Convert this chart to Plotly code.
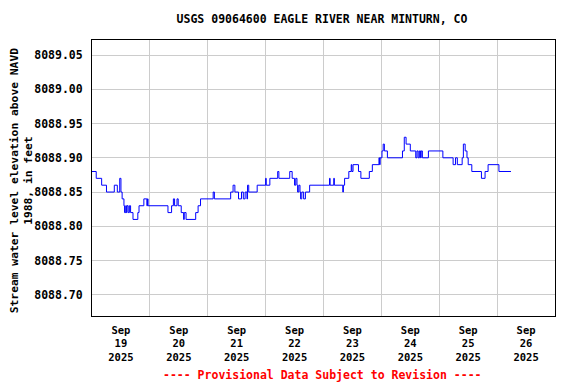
import plotly.graph_objects as go

title_text = "USGS 09064600 EAGLE RIVER NEAR MINTURN, CO"
y_title = "Stream water level elevation above NAVD<br>1988, in feet"
footer_text = "---- Provisional Data Subject to Revision ----"

times = [
    "2025-09-19 00:00", "2025-09-19 01:45", "2025-09-19 04:00", "2025-09-19 06:00",
    "2025-09-19 09:15", "2025-09-19 10:30", "2025-09-19 11:30", "2025-09-19 12:00",
    "2025-09-19 12:30", "2025-09-19 13:15", "2025-09-19 13:30", "2025-09-19 14:00",
    "2025-09-19 14:15", "2025-09-19 14:30", "2025-09-19 15:00", "2025-09-19 15:30",
    "2025-09-19 16:00", "2025-09-19 17:00", "2025-09-19 19:00", "2025-09-19 19:30",
    "2025-09-19 21:30", "2025-09-19 22:45", "2025-09-19 23:00", "2025-09-19 23:15",
    "2025-09-20 07:30", "2025-09-20 09:00", "2025-09-20 09:45", "2025-09-20 10:15",
    "2025-09-20 11:15", "2025-09-20 11:45", "2025-09-20 13:00", "2025-09-20 14:00",
    "2025-09-20 14:15", "2025-09-20 15:00", "2025-09-20 19:00", "2025-09-20 20:00",
    "2025-09-20 21:00",
    "2025-09-21 02:15", "2025-09-21 02:45", "2025-09-21 09:30", "2025-09-21 10:30",
    "2025-09-21 11:15", "2025-09-21 12:45", "2025-09-21 14:00", "2025-09-21 14:45",
    "2025-09-21 15:30", "2025-09-21 16:15", "2025-09-21 16:30", "2025-09-21 17:00",
    "2025-09-21 20:30",
    "2025-09-22 00:00", "2025-09-22 00:15", "2025-09-22 01:45", "2025-09-22 05:00",
    "2025-09-22 05:30", "2025-09-22 10:00", "2025-09-22 11:00", "2025-09-22 12:00",
    "2025-09-22 12:30", "2025-09-22 13:00", "2025-09-22 13:15", "2025-09-22 13:45",
    "2025-09-22 14:15", "2025-09-22 14:30", "2025-09-22 15:00", "2025-09-22 15:45",
    "2025-09-22 16:30", "2025-09-22 18:15",
    "2025-09-23 02:30", "2025-09-23 02:45", "2025-09-23 04:15", "2025-09-23 04:30",
    "2025-09-23 08:00", "2025-09-23 08:15", "2025-09-23 08:45", "2025-09-23 10:30",
    "2025-09-23 11:30", "2025-09-23 11:45", "2025-09-23 12:15", "2025-09-23 14:30",
    "2025-09-23 15:30", "2025-09-23 19:00", "2025-09-23 20:15", "2025-09-23 23:00",
    "2025-09-23 23:15", "2025-09-23 23:30",
    "2025-09-24 00:15", "2025-09-24 00:45", "2025-09-24 01:15", "2025-09-24 02:30",
    "2025-09-24 08:45", "2025-09-24 09:30", "2025-09-24 10:15", "2025-09-24 12:00",
    "2025-09-24 14:15", "2025-09-24 14:45", "2025-09-24 15:15", "2025-09-24 15:45",
    "2025-09-24 16:15", "2025-09-24 16:30", "2025-09-24 17:00", "2025-09-24 19:30",
    "2025-09-25 01:30", "2025-09-25 05:45", "2025-09-25 06:45", "2025-09-25 07:30",
    "2025-09-25 09:30", "2025-09-25 10:00", "2025-09-25 10:45", "2025-09-25 11:30",
    "2025-09-25 12:00", "2025-09-25 13:30", "2025-09-25 17:30", "2025-09-25 19:00",
    "2025-09-25 20:15",
    "2025-09-26 00:45", "2025-09-26 05:45",
]

levels = [
    8088.88, 8088.87, 8088.86, 8088.85,
    8088.86, 8088.85, 8088.87, 8088.85,
    8088.84, 8088.83, 8088.82, 8088.83,
    8088.82, 8088.83, 8088.82, 8088.83,
    8088.82, 8088.81, 8088.82, 8088.83,
    8088.84, 8088.83, 8088.84, 8088.83,
    8088.82, 8088.83, 8088.84, 8088.83,
    8088.84, 8088.83, 8088.82, 8088.81,
    8088.82, 8088.81, 8088.82, 8088.83,
    8088.84,
    8088.85, 8088.84, 8088.85, 8088.86,
    8088.85, 8088.84, 8088.85, 8088.84,
    8088.85, 8088.84, 8088.86, 8088.85,
    8088.86,
    8088.87, 8088.86, 8088.87, 8088.88,
    8088.87, 8088.88, 8088.87, 8088.86,
    8088.87, 8088.86, 8088.85, 8088.86,
    8088.85, 8088.84, 8088.85, 8088.84,
    8088.85, 8088.86,
    8088.87, 8088.86, 8088.87, 8088.86,
    8088.85, 8088.86, 8088.87, 8088.88,
    8088.89, 8088.88, 8088.89, 8088.88,
    8088.87, 8088.88, 8088.89, 8088.90,
    8088.89, 8088.90,
    8088.91, 8088.92, 8088.91, 8088.90,
    8088.91, 8088.93, 8088.92, 8088.91,
    8088.90, 8088.91, 8088.90, 8088.91,
    8088.90, 8088.91, 8088.90, 8088.91,
    8088.90, 8088.89, 8088.90, 8088.89,
    8088.90, 8088.92, 8088.91, 8088.90,
    8088.89, 8088.88, 8088.87, 8088.88,
    8088.89,
    8088.88, 8088.88,
]

label_times = ["2025-09-%02d 12:00" % d for d in range(19, 27)]
label_text = ["Sep<br>%d<br>2025" % d for d in range(19, 27)]
grid_times = ["2025-09-%02d 00:00" % d for d in range(20, 27)]
y_ticks = [8088.70, 8088.75, 8088.80, 8088.85, 8088.90, 8088.95, 8089.00, 8089.05]
y_tick_text = ["%.2f" % v for v in y_ticks]
x_range = ["2025-09-19 00:00", "2025-09-27 00:00"]
y_range = [8088.669, 8089.072]

FONT = "DejaVu Sans Mono"
font = dict(family=FONT, size=11.5, color="black", weight="bold")
xfont = dict(family=FONT, size=10.5, color="black", weight="bold")

# the page body has an 8px margin, so the figure is laid out 8px up/left
fig = go.Figure()
fig.add_trace(go.Scatter(
    x=times, y=levels, mode="lines", line=dict(color="#0000ff", width=1, shape="hv"),
    showlegend=False, hoverinfo="x+y",
))

fig.update_layout(
    width=576, height=384,
    margin=dict(l=84, r=29, t=32, b=76),
    paper_bgcolor="white", plot_bgcolor="white",
    font=font,
    title=dict(text=title_text, x=314 / 576, xanchor="center", y=1 - 11 / 384, yanchor="middle",
               font=dict(family=FONT, size=11.5, color="black", weight="bold")),
)

fig.update_xaxes(
    type="date", range=x_range,
    tickmode="array", tickvals=label_times, ticktext=label_text,
    showgrid=False, ticks="", ticklabelstandoff=4,
    minor=dict(tickmode="array", tickvals=grid_times, showgrid=True, gridcolor="#cccccc", gridwidth=1, ticks=""),
    showline=True, mirror=True, linecolor="black", linewidth=1,
    tickfont=xfont, zeroline=False,
)
fig.update_yaxes(
    range=y_range, tickmode="array", tickvals=y_ticks, ticktext=y_tick_text,
    showgrid=True, gridcolor="#cccccc", gridwidth=1, ticks="", ticklabelstandoff=6,
    showline=True, mirror=True, linecolor="black", linewidth=1,
    tickfont=font, zeroline=False,
)

fig.add_annotation(
    text=y_title, textangle=-90, xref="paper", yref="paper",
    x=(21.5 - 92) / 463, y=0.49, xanchor="center", yanchor="middle", showarrow=False,
    font=dict(family=FONT, size=11.3, color="black", weight="bold"),
)
fig.add_annotation(
    text=footer_text, xref="paper", yref="paper",
    x=(322 - 92) / 463, y=(316 - 375) / 276, xanchor="center", yanchor="middle", showarrow=False,
    font=dict(family=FONT, size=11.5, color="red", weight="bold"),
)

fig.write_html("out.html")
